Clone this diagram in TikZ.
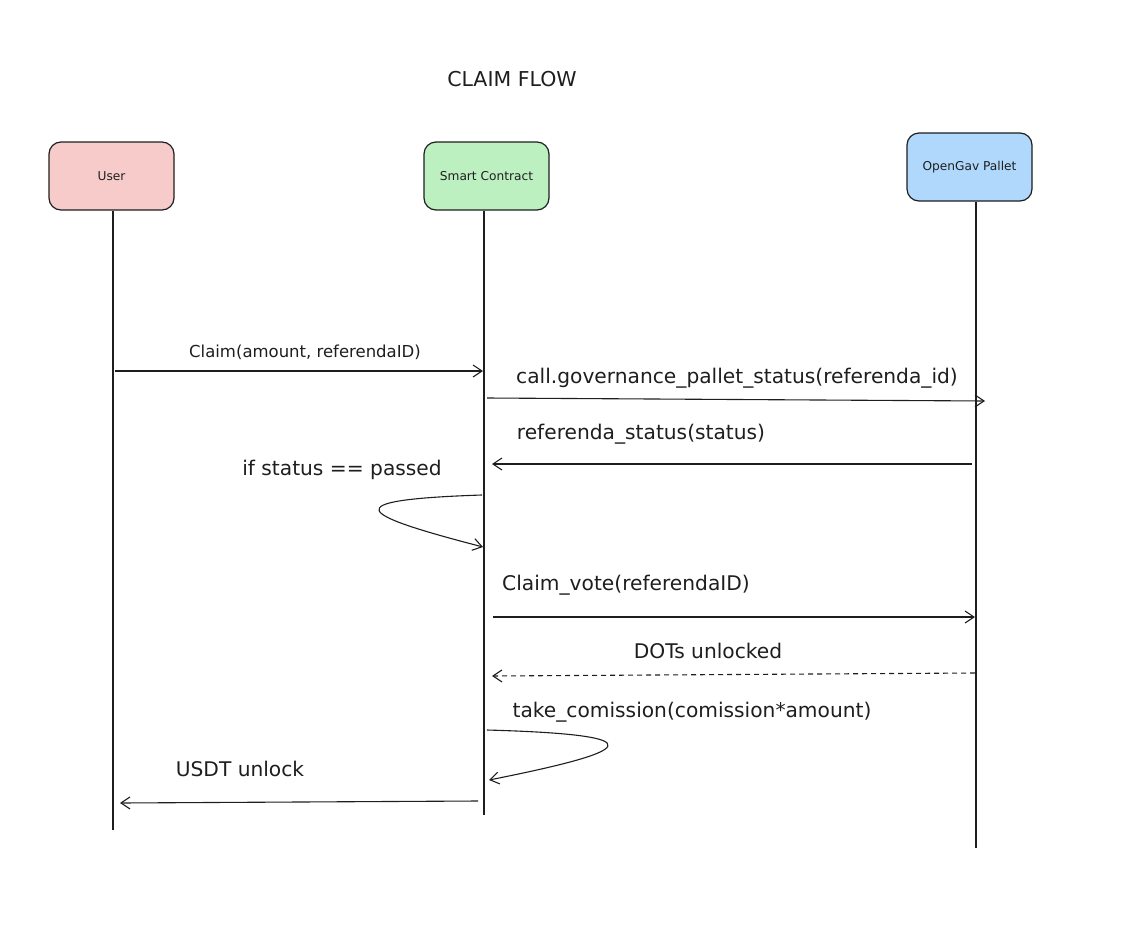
\documentclass[tikz,border=0pt]{standalone}
\usepackage{fontspec}
\setmainfont{DejaVu Sans}
\usetikzlibrary{arrows.meta}
\definecolor{ink}{HTML}{1E1E1E}
\definecolor{userfill}{HTML}{F8CBCB}
\definecolor{scfill}{HTML}{BDF0C0}
\definecolor{govfill}{HTML}{B0D8FD}
\begin{document}
\begin{tikzpicture}[x=1pt,y=-1pt,
  actor/.style={draw=ink, line width=1.2pt, rounded corners=12pt, minimum width=125pt,
    minimum height=68pt, inner sep=0pt, font=\fontsize{12.2}{14}\selectfont, text=ink},
  life/.style={draw=ink, line width=1.2pt},
  msg/.style={draw=ink, line width=1.1pt, -{Straight Barb[length=9pt,width=12pt,line width=1.1pt]}},
  lbl/.style={text=ink, inner sep=0pt, font=\fontsize{20.2}{22}\selectfont},
  smalllbl/.style={text=ink, inner sep=0pt, font=\fontsize{16.5}{18}\selectfont}]
\useasboundingbox (0,0) rectangle (1130,940);

% title
\node[text=ink, font=\fontsize{20.5}{22}\selectfont] (title) at (512,79) {CLAIM FLOW};

% participants
\node[actor, fill=userfill] (user) at (111.5,176) {User};
\node[actor, fill=scfill] (sc) at (486.5,176) {Smart Contract};
\node[actor, fill=govfill] (gov) at (969.5,167) {OpenGav Pallet};

% lifelines
\coordinate (userEnd) at (113,830);
\coordinate (scEnd) at (484,815);
\coordinate (govEnd) at (976,848);
\draw[life] (user.south -| userEnd) -- (userEnd);
\draw[life] (sc.south -| scEnd) -- (scEnd);
\draw[life] (gov.south -| govEnd) -- (govEnd);

% messages
\coordinate (m1a) at (115,371);  \coordinate (m1b) at (483,371);
\draw[msg] (m1a) -- (m1b);
\node[smalllbl] (t1) at (305,352) {Claim(amount, referendaID)};

\coordinate (m2a) at (487,398);  \coordinate (m2b) at (985,401);
\draw[msg] (m2a) -- (m2b);
\node[lbl] (t2) at (737,378) {call.governance\_pallet\_status(referenda\_id)};

\coordinate (m3a) at (972,464);  \coordinate (m3b) at (492,464);
\draw[msg] (m3a) -- (m3b);
\node[lbl] (t3) at (641,434) {referenda\_status(status)};

% self check on the contract
\node[lbl] (t4) at (342,470) {if status == passed};
\coordinate (s1a) at (482,495);  \coordinate (s1b) at (483,547);
\draw[msg] (s1a) .. controls (330,500) and (360,515) .. (s1b);

\coordinate (m4a) at (493,617);  \coordinate (m4b) at (975,617);
\draw[msg] (m4a) -- (m4b);
\node[lbl] (t5) at (626,585) {Claim\_vote(referendaID)};

\coordinate (m5a) at (975,673);  \coordinate (m5b) at (492,676);
\draw[msg, dashed, dash pattern=on 5pt off 4pt] (m5a) -- (m5b);
\node[lbl] (t6) at (708,651) {DOTs unlocked};

% commission step
\node[lbl] (t7) at (692,712) {take\_comission(comission*amount)};
\coordinate (s2a) at (487,730);  \coordinate (s2b) at (489,780);
\draw[msg] (s2a) .. controls (665,735) and (630,752) .. (s2b);

\coordinate (m6a) at (478,801);  \coordinate (m6b) at (120,803);
\draw[msg] (m6a) -- (m6b);
\node[lbl] (t8) at (240,769) {USDT unlock};
\end{tikzpicture}
\end{document}
